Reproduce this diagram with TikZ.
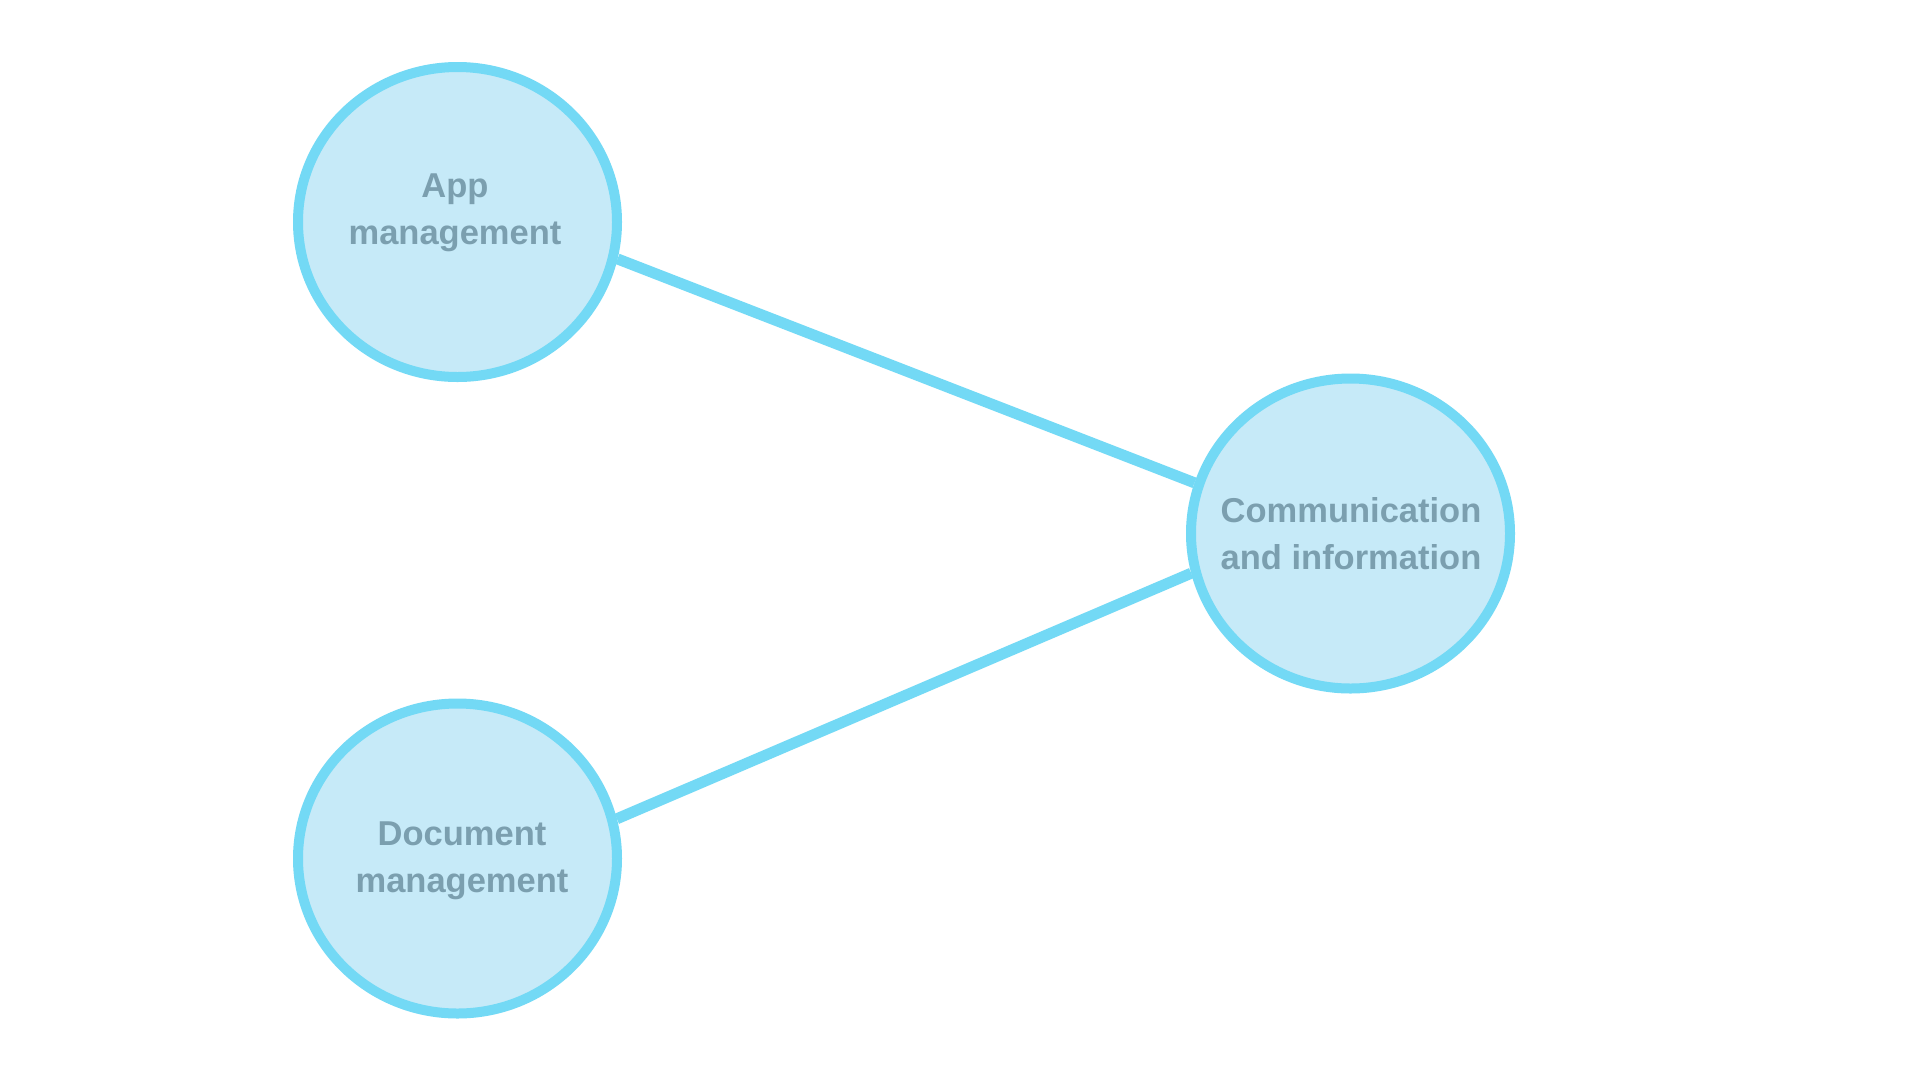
\documentclass[tikz,border=0pt]{standalone}
\usepackage{fontspec}
\setmainfont{Liberation Sans}
\usetikzlibrary{shapes.geometric,backgrounds}
\definecolor{ringc}{HTML}{73D9F5}
\definecolor{fillc}{HTML}{C6EAF8}
\definecolor{textc}{HTML}{7B9FAF}
\tikzset{
  bubble/.style={ellipse, draw=ringc, fill=fillc, line width=10pt,
    minimum width=319pt, minimum height=310pt, inner sep=0pt},
  lbl/.style={align=center, text=textc, text depth=0pt, inner sep=0pt,
    font=\fontsize{34.5pt}{47pt}\selectfont\bfseries},
  conn/.style={draw=ringc, line width=11pt}
}
\begin{document}
\begin{tikzpicture}[x=1pt,y=-1pt]
\useasboundingbox (0,0) rectangle (1920,1080);
\node[bubble] (app) at (457.5,222) {};
\node[bubble] (comm) at (1350.5,533.5) {};
\node[bubble] (doc) at (457.5,858.5) {};
\node[lbl] (appt) at (455,209) {App\\management};
\node[lbl] (commt) at (1351,533.5) {Communication\\and information};
\node[lbl] (doct) at (462,857.5) {Document\\management};
\begin{scope}[on background layer]
\fill[white] (0,0) rectangle (1920,1080);
\draw[conn] (app.-13.4) -- (comm.162.9);
\draw[conn] (doc.14.1) -- (comm.-166.3);
\end{scope}
\end{tikzpicture}
\end{document}
